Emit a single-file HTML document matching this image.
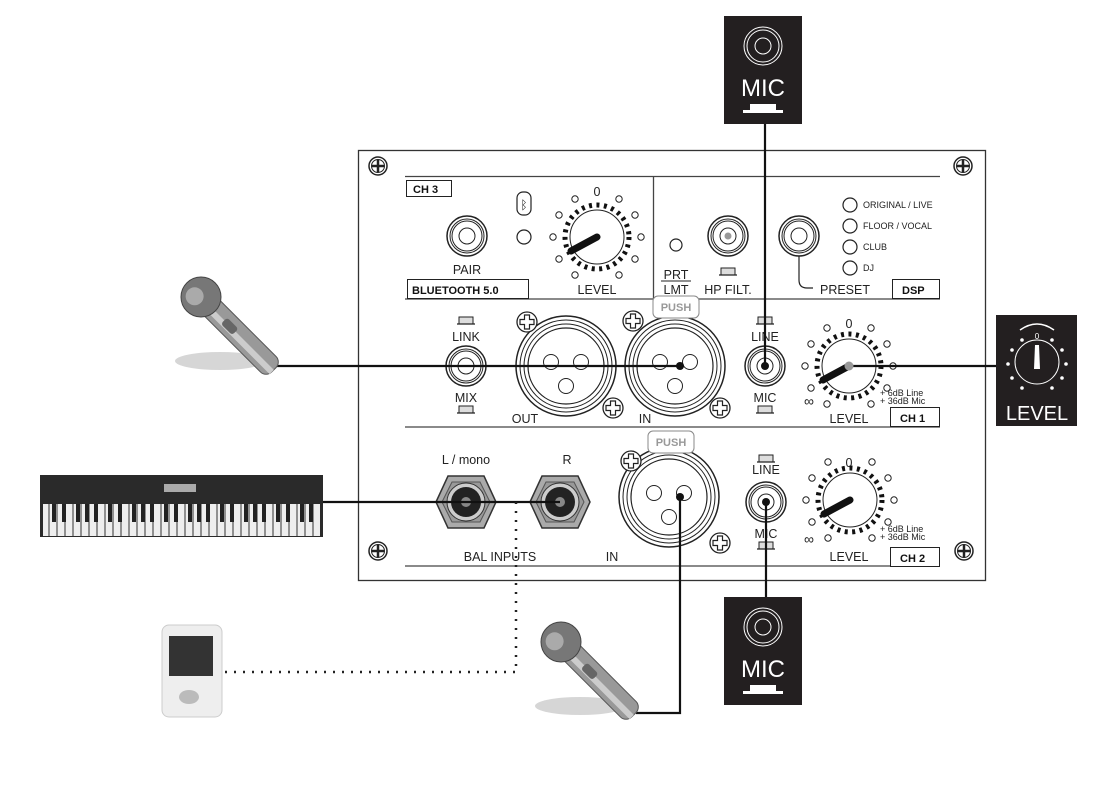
<!DOCTYPE html>
<html><head><meta charset="utf-8"><style>
html,body{margin:0;padding:0;background:#fff;}
svg{display:block;font-family:"Liberation Sans",sans-serif;}
</style></head><body>
<svg width="1105" height="797" viewBox="0 0 1105 797" xmlns="http://www.w3.org/2000/svg">
<defs>
<g id="screw"><circle r="9" fill="#fff" stroke="#222" stroke-width="1.5"/><circle r="6.5" fill="none" stroke="#222" stroke-width="1"/><path d="M-6.5 0H6.5M0 -6.5V6.5" stroke="#222" stroke-width="2.5"/></g>
<g id="pscrew"><circle r="10" fill="#fff" stroke="#222" stroke-width="1.3"/><path d="M-2.5 -7h5v4.5h4.5v5h-4.5v4.5h-5v-4.5h-4.5v-5h4.5z" fill="#fff" stroke="#222" stroke-width="1.2"/></g>
<g id="knob">
<circle r="32" fill="#fff" stroke="#111" stroke-width="5" stroke-dasharray="3 4.5"/>
<circle r="27" fill="#fff" stroke="#222" stroke-width="1"/>
<g fill="#fff" stroke="#222" stroke-width="1">
<circle cx="-22" cy="-38" r="3.2"/><circle cx="22" cy="-38" r="3.2"/>
<circle cx="-38" cy="-22" r="3.2"/><circle cx="38" cy="-22" r="3.2"/>
<circle cx="-44" cy="0" r="3.2"/><circle cx="44" cy="0" r="3.2"/>
<circle cx="-38" cy="22" r="3.2"/><circle cx="38" cy="22" r="3.2"/>
<circle cx="-22" cy="38" r="3.2"/><circle cx="22" cy="38" r="3.2"/>
</g>
<line x1="0" y1="0" x2="-26" y2="14" stroke="#111" stroke-width="7" stroke-linecap="round"/>
</g>
<g id="jack"><circle r="20" fill="#fff" stroke="#222" stroke-width="1.5"/><circle r="17" fill="none" stroke="#222" stroke-width="1"/><circle r="15" fill="none" stroke="#222" stroke-width="1"/><circle r="8" fill="#fff" stroke="#222" stroke-width="1"/></g>
<g id="xlr"><circle r="50" fill="#fff" stroke="#222" stroke-width="1.5"/><circle r="46" fill="none" stroke="#222" stroke-width="1"/><circle r="42" fill="none" stroke="#222" stroke-width="1"/><circle r="38" fill="none" stroke="#222" stroke-width="1.2"/>
<circle cx="-15" cy="-4" r="7.5" fill="#fff" stroke="#222"/><circle cx="15" cy="-4" r="7.5" fill="#fff" stroke="#222"/><circle cx="0" cy="20" r="7.5" fill="#fff" stroke="#222"/></g>
<g id="btn"><rect x="-7" y="-4" width="14" height="7" fill="#ddd" stroke="#222"/><line x1="-9" y1="3" x2="9" y2="3" stroke="#222" stroke-width="1.3"/></g>
<g id="hex"><polygon points="-30,0 -18,-26 18,-26 30,0 18,26 -18,26" fill="#aaa" stroke="#333" stroke-width="1.5"/><polygon points="-24,0 -14,-20 14,-20 24,0 14,20 -14,20" fill="#999" stroke="#555"/><circle r="19" fill="#ccc" stroke="#333"/><circle r="15" fill="#222"/><circle r="5" fill="#888"/></g>
<g id="mic"><ellipse cx="45" cy="86" rx="45" ry="9" fill="#bbb" opacity="0.6"/>
<g transform="rotate(-45 26 22)"><rect x="15" y="30" width="22" height="95" rx="8" fill="#999" stroke="#555"/><rect x="20" y="30" width="6" height="95" fill="#ccc"/><rect x="21" y="55" width="9" height="16" rx="3" fill="#666"/><circle cx="26" cy="22" r="20" fill="#777" stroke="#444"/><circle cx="22" cy="17" r="9" fill="#aaa"/></g></g>
<g id="micbox"><rect width="78" height="108" fill="#231f20"/><circle cx="39" cy="30" r="19" fill="none" stroke="#fff" stroke-width="1"/><circle cx="39" cy="30" r="16" fill="none" stroke="#fff" stroke-width="1"/><circle cx="39" cy="30" r="8" fill="none" stroke="#fff" stroke-width="1"/>
<text x="39" y="80" fill="#fff" font-size="24" text-anchor="middle">MIC</text><rect x="26" y="88" width="26" height="7" fill="#fff"/><rect x="19" y="94" width="40" height="3" fill="#fff"/></g>
</defs>

<rect x="358.5" y="150.5" width="627" height="430" fill="#fff" stroke="#333" stroke-width="1.3"/>
<use href="#screw" x="378" y="166"/><use href="#screw" x="963" y="166"/><use href="#screw" x="378" y="551"/><use href="#screw" x="964" y="551"/>
<g stroke="#444" stroke-width="1.3" fill="none">
<line x1="405" y1="176.5" x2="940" y2="176.5"/>
<line x1="653.5" y1="176" x2="653.5" y2="299"/>
<line x1="405" y1="299" x2="940" y2="299"/>
<line x1="405" y1="427" x2="940" y2="427"/>
<line x1="405" y1="566" x2="940" y2="566"/>
</g>
<g font-weight="bold" font-size="11" fill="#111">
<rect x="406.5" y="180.5" width="45" height="16" fill="#fff" stroke="#222"/><text x="413" y="193">CH 3</text>
<rect x="407.5" y="279.5" width="121" height="19" fill="#fff" stroke="#222"/><text x="412" y="294">BLUETOOTH 5.0</text>
<rect x="892.5" y="279.5" width="47" height="19" fill="#fff" stroke="#222"/><text x="902" y="294">DSP</text>
<rect x="890.5" y="407.5" width="49" height="19" fill="#fff" stroke="#222"/><text x="900" y="422">CH 1</text>
<rect x="890.5" y="547.5" width="49" height="19" fill="#fff" stroke="#222"/><text x="900" y="562">CH 2</text>
</g>
<g font-size="12.5" fill="#222" text-anchor="middle">
<text x="467" y="274">PAIR</text><text x="597" y="294">LEVEL</text><text x="597" y="196">0</text>
<text x="728" y="294">HP FILT.</text><text x="845" y="294">PRESET</text>
<text x="676" y="279">PRT</text><text x="676" y="294">LMT</text>
<text x="466" y="341">LINK</text><text x="466" y="402">MIX</text><text x="525" y="423">OUT</text><text x="645" y="423">IN</text>
<text x="765" y="341">LINE</text><text x="765" y="402">MIC</text><text x="849" y="423">LEVEL</text><text x="849" y="328">0</text>
<text x="466" y="464">L / mono</text><text x="567" y="464">R</text><text x="500" y="561">BAL INPUTS</text><text x="612" y="561">IN</text>
<text x="766" y="474">LINE</text><text x="766" y="538">MIC</text><text x="849" y="561">LEVEL</text><text x="849" y="467">0</text>
</g>
<line x1="661" y1="281" x2="691" y2="281" stroke="#222"/>
<g font-size="9" fill="#222">
<text x="863" y="208">ORIGINAL / LIVE</text><text x="863" y="229">FLOOR / VOCAL</text><text x="863" y="250">CLUB</text><text x="863" y="271">DJ</text>
<text x="880" y="396">+ 6dB Line</text><text x="880" y="404">+ 36dB Mic</text>
<text x="880" y="532">+ 6dB Line</text><text x="880" y="540">+ 36dB Mic</text>
</g>
<g font-size="14" fill="#222"><text x="804" y="406">∞</text><text x="804" y="544">∞</text></g>
<g fill="#fff" stroke="#222" stroke-width="1.2">
<circle cx="850" cy="205" r="7"/><circle cx="850" cy="226" r="7"/><circle cx="850" cy="247" r="7"/><circle cx="850" cy="268" r="7"/>
<circle cx="524" cy="237" r="7"/><circle cx="676" cy="245" r="6"/>
<rect x="517" y="192" width="14" height="23" rx="6"/>
</g>
<text x="524" y="209" font-size="12" text-anchor="middle" fill="#222">ᛒ</text>
<use href="#jack" x="467" y="236"/>
<use href="#jack" x="728" y="236"/><circle cx="728" cy="236" r="3.5" fill="#999"/>
<use href="#jack" x="799" y="236"/>
<path d="M799 256V280q0 8 8 8h6" fill="none" stroke="#222" stroke-width="1.2"/>
<use href="#btn" x="728" y="272"/>
<use href="#knob" x="597" y="237"/>

<use href="#btn" x="466" y="321"/><use href="#btn" x="466" y="410"/>
<use href="#jack" x="466" y="366"/>
<use href="#xlr" x="566" y="366"/>
<use href="#xlr" x="675" y="366"/>
<rect x="653" y="296" width="46" height="22" rx="5" fill="#fff" stroke="#888"/><text x="676" y="311" font-size="11" font-weight="bold" fill="#999" text-anchor="middle">PUSH</text>
<use href="#pscrew" x="527" y="322"/><use href="#pscrew" x="613" y="408"/><use href="#pscrew" x="633" y="321"/><use href="#pscrew" x="720" y="408"/>
<use href="#btn" x="765" y="321"/><use href="#btn" x="765" y="410"/>
<use href="#jack" x="765" y="366"/><circle cx="765" cy="366" r="4" fill="#111"/>
<use href="#knob" x="849" y="366"/>

<use href="#hex" x="466" y="502"/><use href="#hex" x="560" y="502"/>
<use href="#xlr" x="669" y="497"/>
<rect x="648" y="431" width="46" height="22" rx="5" fill="#fff" stroke="#888"/><text x="671" y="446" font-size="11" font-weight="bold" fill="#999" text-anchor="middle">PUSH</text>
<use href="#pscrew" x="631" y="461"/><use href="#pscrew" x="720" y="543"/>
<use href="#btn" x="766" y="459"/><use href="#btn" x="766" y="546"/>
<use href="#jack" x="766" y="502"/><circle cx="766" cy="502" r="4" fill="#111"/>
<use href="#knob" x="850" y="500"/>

<g stroke="#111" stroke-width="2.2" fill="none">
<line x1="765" y1="123" x2="765" y2="366"/>
<line x1="276" y1="366" x2="680" y2="366"/>
<line x1="849" y1="366" x2="998" y2="366"/>
<line x1="323" y1="502" x2="560" y2="502"/>
<line x1="766" y1="502" x2="766" y2="597"/>
<path d="M636 713H680V497"/>
</g>
<circle cx="680" cy="366" r="4" fill="#111"/><circle cx="849" cy="366" r="4.5" fill="#999"/><circle cx="680" cy="497" r="4" fill="#111"/>
<path d="M516 502V672H218" fill="none" stroke="#222" stroke-width="2.5" stroke-dasharray="2 7"/>

<use href="#micbox" x="724" y="16"/>
<use href="#micbox" x="724" y="597"/>
<rect x="996" y="315" width="81" height="111" fill="#231f20"/>
<path d="M1020 330Q1037 318 1054 330" fill="none" stroke="#fff" stroke-width="1.5"/>
<circle cx="1037" cy="362" r="22" fill="none" stroke="#fff"/>
<path d="M1035 345h4l1 24h-6z" fill="#fff"/>
<g fill="#fff"><circle cx="1022" cy="340" r="1.8"/><circle cx="1052" cy="340" r="1.8"/><circle cx="1012" cy="350" r="1.8"/><circle cx="1062" cy="350" r="1.8"/><circle cx="1008" cy="364" r="1.8"/><circle cx="1066" cy="364" r="1.8"/><circle cx="1012" cy="378" r="1.8"/><circle cx="1062" cy="378" r="1.8"/><circle cx="1022" cy="388" r="1.8"/><circle cx="1052" cy="388" r="1.8"/></g>
<text x="1037" y="339" font-size="8" fill="#fff" text-anchor="middle">0</text>
<text x="1037" y="420" font-size="20" fill="#fff" text-anchor="middle">LEVEL</text>

<use href="#mic" x="175" y="275"/>
<use href="#mic" x="535" y="620"/>
<rect x="40" y="475" width="283" height="62" fill="#2a2a2a"/>
<rect x="164" y="484" width="32" height="8" fill="#aaa"/>
<rect x="43" y="504" width="277" height="32" fill="#eee"/>
<g stroke="#333" stroke-width="1">
<path d="M49 504v32M57 504v32M65 504v32M73 504v32M81 504v32M89 504v32M97 504v32M105 504v32M113 504v32M121 504v32M129 504v32M137 504v32M145 504v32M153 504v32M161 504v32M169 504v32M177 504v32M185 504v32M193 504v32M201 504v32M209 504v32M217 504v32M225 504v32M233 504v32M241 504v32M249 504v32M257 504v32M265 504v32M273 504v32M281 504v32M289 504v32M297 504v32M305 504v32M313 504v32"/>
</g>
<g fill="#222"><path d="M52 504h4v18h-4zM62 504h4v18h-4zM76 504h4v18h-4zM85 504h4v18h-4zM94 504h4v18h-4zM108 504h4v18h-4zM118 504h4v18h-4zM132 504h4v18h-4zM141 504h4v18h-4zM150 504h4v18h-4zM164 504h4v18h-4zM174 504h4v18h-4zM188 504h4v18h-4zM197 504h4v18h-4zM206 504h4v18h-4zM220 504h4v18h-4zM230 504h4v18h-4zM244 504h4v18h-4zM253 504h4v18h-4zM262 504h4v18h-4zM276 504h4v18h-4zM286 504h4v18h-4zM300 504h4v18h-4zM309 504h4v18h-4z"/></g>
<rect x="162" y="625" width="60" height="92" rx="7" fill="#eee" stroke="#ccc"/>
<rect x="169" y="636" width="44" height="40" fill="#333"/>
<ellipse cx="189" cy="697" rx="10" ry="7" fill="#bbb"/>
</svg>
</body></html>
